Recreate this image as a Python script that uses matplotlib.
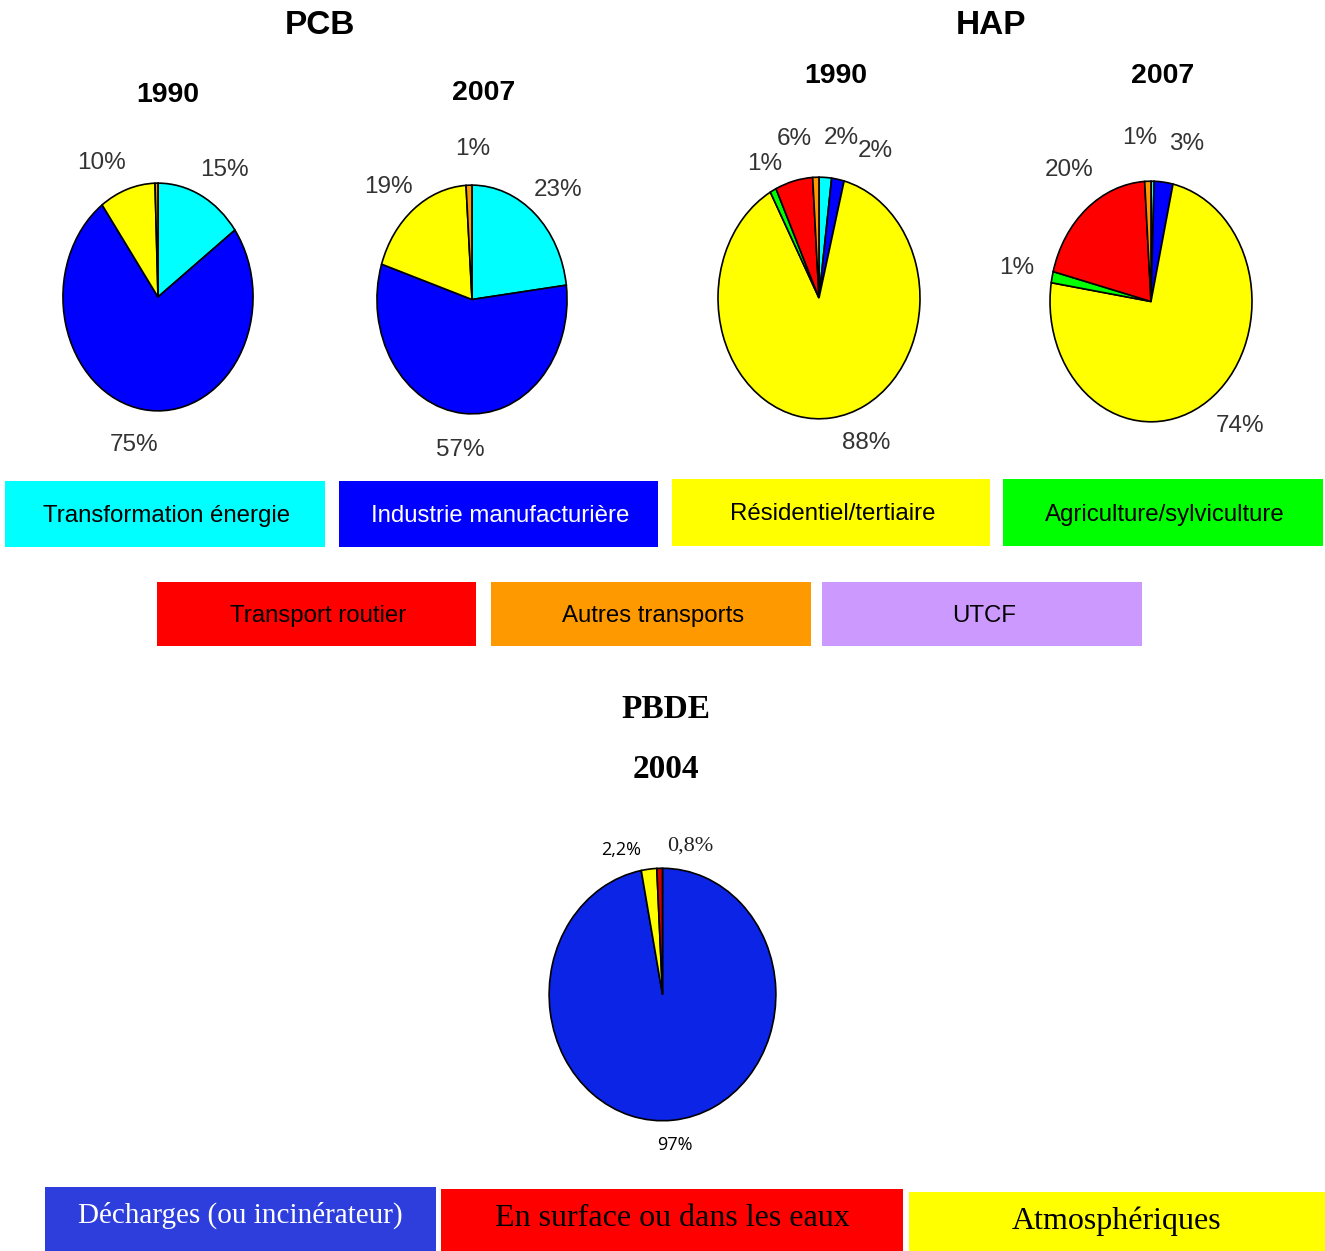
import matplotlib
matplotlib.use('Agg')
import matplotlib.pyplot as plt
from matplotlib.patches import Rectangle
import numpy as np

W, H = 1325, 1251

NARROW = ['Liberation Sans', 'DejaVu Sans']
SERIF = ['Liberation Serif', 'DejaVu Serif']
SANS = ['Open Sans', 'DejaVu Sans']

# shared sector legend (PCB / HAP)
sectors = ['Transformation énergie', 'Industrie manufacturière', 'Résidentiel/tertiaire',
           'Agriculture/sylviculture', 'Transport routier', 'Autres transports', 'UTCF']
sector_colors = ['#00FFFF', '#0000FF', '#FFFF00', '#00FF00', '#FF0000', '#FF9900', '#CC99FF']
sector_text = ['black', 'white', 'black', 'black', 'black', 'black', 'black']

# shares (%) per sector, same order as sectors
pcb_1990 = [15, 75, 9.5, 0, 0, 0.5, 0]
pcb_1990_lab = ['15%', '75%', '10%', '', '', '', '']
pcb_2007 = [23, 57, 19, 0, 0, 1, 0]
pcb_2007_lab = ['23%', '57%', '19%', '', '', '1%', '']
hap_1990 = [2, 2, 88, 1, 6, 1, 0]
hap_1990_lab = ['2%', '2%', '88%', '1%', '6%', '', '']
hap_2007 = [0.5, 3, 74, 1.5, 20, 1, 0]
hap_2007_lab = ['', '3%', '74%', '1%', '20%', '1%', '']

# PBDE 2004
pbde_cats = ['Décharges (ou incinérateur)', 'Atmosphériques', 'En surface ou dans les eaux']
pbde_vals = [97, 2.2, 0.8]
pbde_lab = ['97%', '2,2%', '0,8%']
pbde_colors = ['#0B24E6', '#FFFF00', '#CC0000']

fig = plt.figure(figsize=(W / 100, H / 100), dpi=100)
bg = fig.add_axes([0, 0, 1, 1])
bg.set_xlim(0, W)
bg.set_ylim(H, 0)
bg.axis('off')


def px_axes(x0, y0, x1, y1):
    return fig.add_axes([x0 / W, 1 - y1 / H, (x1 - x0) / W, (y1 - y0) / H])


def draw_pie(ax, values, colors, labels, nudges, r_lab, fonts):
    keep = [i for i, v in enumerate(values) if v > 0]
    wedges, _ = ax.pie([values[i] for i in keep], colors=[colors[i] for i in keep],
                       startangle=90, counterclock=False, radius=1,
                       wedgeprops=dict(edgecolor='black', linewidth=1.2))
    ax.set_aspect('auto')
    ax.set_xlim(-1.01, 1.01)
    ax.set_ylim(-1.01, 1.01)
    for w, i in zip(wedges, keep):
        if not labels[i]:
            continue
        ang, r = nudges[i]
        a = np.deg2rad((w.theta1 + w.theta2) / 2 + ang)
        ax.text(r * r_lab * np.cos(a), r * r_lab * np.sin(a), labels[i], ha='center', va='center',
                clip_on=False, **fonts[i])


lab_font = dict(family=NARROW, fontsize=17.5, color='#333333')
lf = [lab_font] * 7
z = (0, 1)

draw_pie(px_axes(62, 182, 254, 412), pcb_1990, sector_colors, pcb_1990_lab,
         [(-5, 1), (-2, 1), (8, 1), z, z, z, z], 1.32, lf)
draw_pie(px_axes(376, 184, 568, 415), pcb_2007, sector_colors, pcb_2007_lab,
         [(-2, 1), z, (4, 1), z, z, (-2, 1), z], 1.32, lf)
draw_pie(px_axes(717, 176, 921, 420), hap_1990, sector_colors, hap_1990_lab,
         [(-6, 1), (-14, 1), (14, 0.96), (-1, 0.92), (-4, 1), z, z], 1.34, lf)
draw_pie(px_axes(1049, 180, 1253, 423), hap_2007, sector_colors, hap_2007_lab,
         [z, (-8, 1), (6, 1), z, (-3, 1), (3, 1), z], 1.36, lf)

pbde_fonts = [dict(family=SANS, fontsize=13, color='black'),
              dict(family=SANS, fontsize=13, color='black'),
              dict(family=SERIF, fontsize=16, color='#222222')]
draw_pie(px_axes(548, 867, 777, 1122), pbde_vals, pbde_colors, pbde_lab,
         [z, (11, 1), (-13, 1)], 1.2, pbde_fonts)

# titles
bg.text(320, 25, 'PCB', ha='center', va='center', family=NARROW, fontsize=24, fontweight='bold')
bg.text(991, 25, 'HAP', ha='center', va='center', family=NARROW, fontsize=24, fontweight='bold')
for x, y, t in [(168, 95, '1990'), (484, 93, '2007'), (836, 76, '1990'), (1163, 76, '2007')]:
    bg.text(x, y, t, ha='center', va='center', family=NARROW, fontsize=20.5, fontweight='bold')
bg.text(666, 710, 'PBDE', ha='center', va='center', family=SERIF, fontsize=24, fontweight='bold')
bg.text(666, 770, '2004', ha='center', va='center', family=SERIF, fontsize=24, fontweight='bold')

# sector legend boxes
boxes = [(5, 481, 325, 547), (339, 481, 658, 547), (672, 479, 990, 546), (1003, 479, 1323, 546),
         (157, 582, 476, 646), (491, 582, 811, 646), (822, 582, 1142, 646)]
for (x0, y0, x1, y1), name, c, tc in zip(boxes, sectors, sector_colors, sector_text):
    bg.add_patch(Rectangle((x0, y0), x1 - x0, y1 - y0, facecolor=c, edgecolor='none'))
    bg.text((x0 + x1) / 2 + 2, (y0 + y1) / 2 + 2, name, ha='center', va='center',
            family=NARROW, fontsize=17.3, color=tc)

# PBDE legend boxes
pbde_boxes = [(45, 1187, 436, 1260), (909, 1192, 1325, 1260), (441, 1189, 903, 1260)]
pbde_box_colors = ['#2E3EDC', '#FFFF00', '#FF0000']
pbde_text = ['white', 'black', 'black']
pbde_ty = [1215, 1221, 1218]
pbde_fs = [21, 23, 23]
for (x0, y0, x1, y1), name, c, tc, ty, fs in zip(pbde_boxes, pbde_cats, pbde_box_colors,
                                                 pbde_text, pbde_ty, pbde_fs):
    bg.add_patch(Rectangle((x0, y0), x1 - x0, y1 - y0, facecolor=c, edgecolor='none'))
    bg.text((x0 + x1) / 2, ty, name, ha='center', va='center', family=SERIF, fontsize=fs, color=tc)

fig.savefig('out.png', dpi=100)
